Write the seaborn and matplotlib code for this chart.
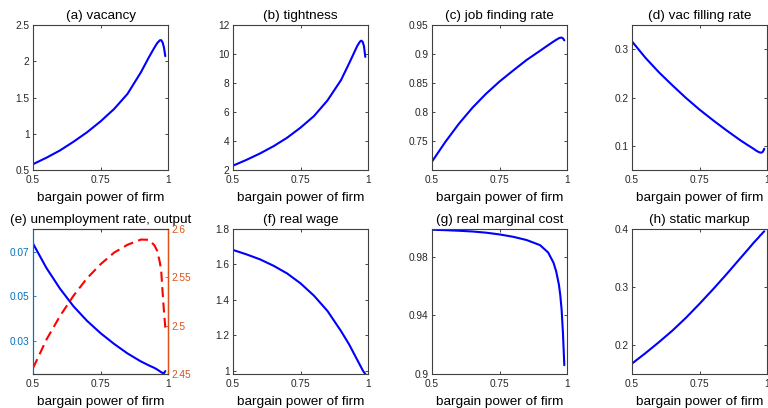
import matplotlib
matplotlib.use("Agg")
import matplotlib.pyplot as plt
from matplotlib.ticker import FuncFormatter
import numpy as np
import pandas as pd
import seaborn as sns

# ---- data ----
bargain = [0.5, 0.55, 0.6, 0.65, 0.7, 0.75, 0.8, 0.85, 0.9, 0.93, 0.95, 0.96, 0.97, 0.975, 0.98, 0.985, 0.99]
vacancy = [0.58, 0.67, 0.77, 0.89, 1.02, 1.17, 1.34, 1.55, 1.85, 2.06, 2.19, 2.25, 2.29, 2.29, 2.26, 2.19, 2.07]
tightness = [2.3, 2.7, 3.14, 3.64, 4.22, 4.92, 5.72, 6.8, 8.2, 9.35, 10.15, 10.55, 10.85, 10.92, 10.85, 10.55, 9.8]
job_finding = [0.7145, 0.7488, 0.780, 0.8075, 0.8314, 0.8525, 0.8713, 0.8896, 0.9055, 0.9152, 0.9215,
               0.9245, 0.9272, 0.928, 0.9283, 0.927, 0.9235]
vac_filling = [0.316, 0.282, 0.252, 0.225, 0.199, 0.175, 0.153, 0.132, 0.112, 0.101, 0.094, 0.090,
               0.087, 0.086, 0.086, 0.088, 0.094]
unemployment = [0.0737, 0.0627, 0.0535, 0.0456, 0.0391, 0.0336, 0.0288, 0.0245, 0.0209, 0.0191, 0.0180,
                0.0173, 0.0165, 0.0161, 0.0158, 0.0156, 0.0166]
output = [2.456, 2.4857, 2.510, 2.531, 2.549, 2.5635, 2.5755, 2.5837, 2.5891, 2.5888, 2.583, 2.5773,
          2.5653, 2.556, 2.5347, 2.515, 2.498]
real_wage = [1.682, 1.657, 1.629, 1.593, 1.550, 1.494, 1.424, 1.338, 1.225, 1.150, 1.092, 1.063, 1.034,
             1.020, 1.005, 0.993, 0.983]
marginal_cost = [0.9985, 0.9982, 0.9978, 0.9973, 0.9965, 0.9953, 0.9937, 0.9915, 0.988, 0.983, 0.976,
                 0.970, 0.961, 0.954, 0.944, 0.928, 0.906]
markup = [0.168, 0.186, 0.205, 0.225, 0.247, 0.271, 0.296, 0.322, 0.349, 0.365, 0.376, 0.381, 0.386,
          0.389, 0.391, 0.394, 0.396]

titles = ["(a) vacancy", "(b) tightness", "(c) job finding rate", "(d) vac filling rate",
          "(e) unemployment rate, output", "(f) real wage", "(g) real marginal cost", "(h) static markup"]
x_ticks = [0.5, 0.75, 1.0]
x_label = "bargain power of firm"

df = pd.DataFrame({
    "bargain": bargain, "vacancy": vacancy, "tightness": tightness,
    "job_finding": job_finding, "vac_filling": vac_filling,
    "unemployment": unemployment, "output": output, "real_wage": real_wage,
    "marginal_cost": marginal_cost, "markup": markup,
})

sns.set_style("ticks")
plt.rcParams["font.family"] = ["Liberation Sans", "DejaVu Sans"]
plt.rcParams["axes.edgecolor"] = "#404040"
plt.rcParams["axes.linewidth"] = 0.8

GREY = "#262626"
BLUE = "#0000FF"
MBLUE = "#0072BD"
MORANGE = "#D95319"

fig = plt.figure(figsize=(7.68, 4.08), dpi=100)
W, H = 768.0, 408.0
col_left = [33, 233, 432, 632]
col_w = 135
rows = [(25, 170), (229, 374)]

fmt = FuncFormatter(lambda v, p: f"{v:g}")

def make_ax(r, c):
    t, b = rows[r]
    return fig.add_axes([col_left[c] / W, 1 - b / H, col_w / W, (b - t) / H])

def style(ax, title, yticks, ylim, mirror=True):
    ax.set_xlim(0.5, 1.0)
    ax.set_ylim(*ylim)
    ax.set_xticks(x_ticks)
    ax.set_yticks(yticks)
    ax.xaxis.set_major_formatter(fmt)
    ax.yaxis.set_major_formatter(fmt)
    ax.tick_params(direction="in", length=2.5, width=0.6, labelsize=7.3,
                   colors=GREY, top=True, right=mirror)
    ax.tick_params(axis="x", pad=3.5)
    ax.tick_params(axis="y", pad=2.5)
    ax.set_title(title, fontsize=9.7, pad=4.5, color="black")
    ax.set_xlabel(x_label, fontsize=9.7, labelpad=5, color="black")
    ax.set_ylabel("")
    for s in ax.spines.values():
        s.set_visible(True)

specs = [
    ("vacancy", [0.5, 1, 1.5, 2, 2.5], (0.5, 2.5)),
    ("tightness", [2, 4, 6, 8, 10, 12], (2, 12)),
    ("job_finding", [0.75, 0.8, 0.85, 0.9, 0.95], (0.70, 0.95)),
    ("vac_filling", [0.1, 0.2, 0.3], (0.05, 0.35)),
    None,
    ("real_wage", [1, 1.2, 1.4, 1.6, 1.8], (0.983, 1.8)),
    ("marginal_cost", [0.9, 0.94, 0.98], (0.9, 0.999)),
    ("markup", [0.2, 0.3, 0.4], (0.15, 0.4)),
]

for i, spec in enumerate(specs):
    r, c = divmod(i, 4)
    ax = make_ax(r, c)
    if spec is None:
        # panel (e): two y axes
        sns.lineplot(data=df, x="bargain", y="unemployment", ax=ax, color=BLUE, linewidth=1.5)
        style(ax, titles[i], [0.03, 0.05, 0.07], (0.0153, 0.0802), mirror=False)
        ax.tick_params(axis="y", colors=MBLUE)
        ax.spines["left"].set_color(MBLUE)
        ax2 = ax.twinx()
        sns.lineplot(data=df, x="bargain", y="output", ax=ax2, color="#FF0000",
                     linewidth=1.5, linestyle=(0, (4.8, 2.6)))
        ax2.set_ylim(2.45, 2.6)
        ax2.set_yticks([2.45, 2.5, 2.55, 2.6])
        ax2.yaxis.set_major_formatter(fmt)
        ax2.set_ylabel("")
        ax2.set_xlabel("")
        ax2.tick_params(axis="y", direction="in", length=2.5, width=0.6, labelsize=7.3,
                        colors=MORANGE, pad=2.5)
        ax2.spines["right"].set_color(MORANGE)
        ax2.spines["right"].set_linewidth(1.0)
        ax2.spines["left"].set_color(MBLUE)
        continue
    col, yt, yl = spec
    sns.lineplot(data=df, x="bargain", y=col, ax=ax, color=BLUE, linewidth=1.5)
    style(ax, titles[i], yt, yl)

fig.savefig("out.png", dpi=100, facecolor="white")
